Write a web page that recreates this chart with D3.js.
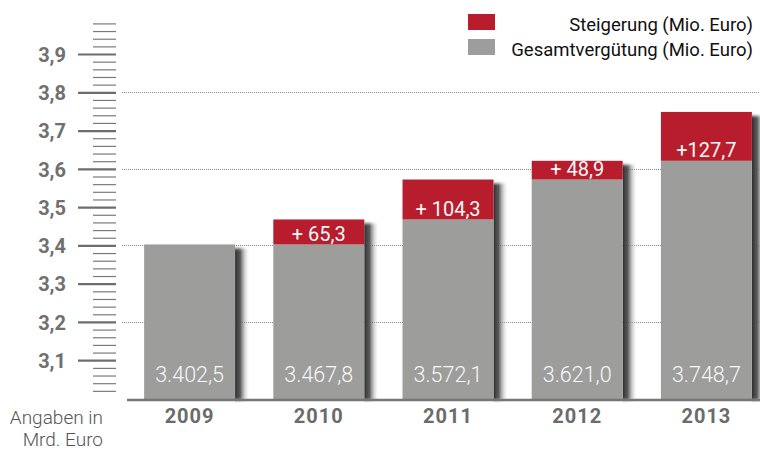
<!DOCTYPE html>
<html>
<head>
<meta charset="utf-8">
<script src="https://cdn.jsdelivr.net/npm/d3@7"></script>
<style>
  html, body { margin: 0; padding: 0; background: #fff; }
  svg { display: block; font-family: Roboto, "Open Sans", sans-serif; }
</style>
</head>
<body>
<svg id="chart" width="760" height="450"></svg>
<script>
// Gesamtvergütung chart
const years = ["2009", "2010", "2011", "2012", "2013"];
const totals = [3402.5, 3467.8, 3572.1, 3621.0, 3748.7];      // Mio. Euro
const increases = [0, 65.3, 104.3, 48.9, 127.7];              // Mio. Euro
const increaseLabels = ["", "+ 65,3", "+ 104,3", "+ 48,9", "+127,7"];
const majorTicks = [3.1, 3.2, 3.3, 3.4, 3.5, 3.6, 3.7, 3.8, 3.9]; // Mrd. Euro
const gridTicks = [3.2, 3.4, 3.6, 3.8];
const legendItems = [
  {label: "Steigerung (Mio. Euro)", color: "#b71d2c"},
  {label: "Gesamtvergütung (Mio. Euro)", color: "#9d9d9c"}
];

const RED = "#b71d2c", GRAY = "#9d9d9c";
const svg = d3.select("#chart");
const de = d3.formatLocale({decimal: ",", thousands: ".", grouping: [3], currency: ["", " €"]});
const fmtTotal = de.format(",.1f");
const fmtTick = de.format(".1f");

const data = years.map((y, i) => ({
  year: y,
  total: totals[i] / 1000,
  base: (totals[i] - increases[i]) / 1000,
  incLabel: increaseLabels[i],
  totalLabel: fmtTotal(totals[i])
}));

const y = d3.scaleLinear().domain([3.0, 3.98]).range([398.5, 23.4]);
const x = d3.scaleBand().domain(years).range([125, 771]).paddingInner(0.296).paddingOuter(0.148);
const baseY = 400;

// shadow gradient
const defs = svg.append("defs");
const grad = defs.append("linearGradient").attr("id", "shadowGrad").attr("x1", 0).attr("x2", 1).attr("y1", 0).attr("y2", 0);
grad.append("stop").attr("offset", 0).attr("stop-color", "#2e2e2e").attr("stop-opacity", 1);
grad.append("stop").attr("offset", 0.35).attr("stop-color", "#4a4a4a").attr("stop-opacity", 0.9);
grad.append("stop").attr("offset", 1).attr("stop-color", "#fff").attr("stop-opacity", 0);
defs.append("filter").attr("id", "soft").attr("x", "-20%").attr("y", "-20%").attr("width", "140%").attr("height", "140%")
  .append("feGaussianBlur").attr("stdDeviation", "0.6 1.5");

// grid
svg.append("g").selectAll("line").data(gridTicks).join("line")
  .attr("x1", 122).attr("x2", 760)
  .attr("y1", d => Math.round(y(d)) + 0.5).attr("y2", d => Math.round(y(d)) + 0.5)
  .attr("stroke", "#8a8a8a").attr("stroke-width", 1).attr("stroke-dasharray", "1,1");

// y axis: minor and major ticks
const minorTicks = d3.range(1, 50).filter(i => i % 5 !== 0).map(i => 3 + i * 0.02);
const minorAxis = svg.append("g").attr("transform", "translate(116,0)")
  .call(d3.axisLeft(y).tickValues(minorTicks).tickSize(23).tickFormat(""));
minorAxis.select(".domain").remove();
minorAxis.selectAll("line").attr("stroke", "#7a7a7a").attr("stroke-width", 1.2);

const majorAxis = svg.append("g").attr("transform", "translate(116,0)")
  .call(d3.axisLeft(y).tickValues(majorTicks).tickSize(38).tickPadding(12).tickFormat(fmtTick));
majorAxis.select(".domain").remove();
majorAxis.selectAll("line").attr("stroke", "#6e6e6e").attr("stroke-width", 2.2);
majorAxis.selectAll("text")
  .attr("font-family", "Roboto, sans-serif").attr("font-size", 20).attr("font-weight", 700)
  .attr("fill", "#707070").attr("dy", "0.36em");

// bars
const bars = svg.append("g").selectAll("g").data(data).join("g");

bars.append("rect")
  .attr("x", d => x(d.year) + x.bandwidth())
  .attr("y", d => y(d.total) + 4)
  .attr("width", 15)
  .attr("height", d => baseY - y(d.total) - 4)
  .attr("fill", "url(#shadowGrad)")
  .attr("filter", "url(#soft)");

bars.append("rect")
  .attr("x", d => x(d.year)).attr("width", x.bandwidth())
  .attr("y", d => y(d.base)).attr("height", d => baseY - y(d.base))
  .attr("fill", GRAY);

bars.filter(d => d.total > d.base).append("rect")
  .attr("x", d => x(d.year)).attr("width", x.bandwidth())
  .attr("y", d => y(d.total)).attr("height", d => y(d.base) - y(d.total))
  .attr("fill", RED);

bars.filter(d => d.incLabel).append("text")
  .attr("x", d => x(d.year) + x.bandwidth() / 2)
  .attr("y", d => y(d.base) - 3.5)
  .attr("text-anchor", "middle")
  .attr("font-size", 20).attr("fill", "#f8f8f8")
  .text(d => d.incLabel);

bars.append("text")
  .attr("x", d => x(d.year) + x.bandwidth() / 2)
  .attr("y", 382)
  .attr("text-anchor", "middle")
  .attr("font-size", 21.5).attr("font-weight", 300).attr("fill", "#f8f8f8")
  .text(d => d.totalLabel);

// baseline
svg.append("line").attr("x1", 127).attr("x2", 760).attr("y1", baseY).attr("y2", baseY)
  .attr("stroke", "#767676").attr("stroke-width", 2.3);

// x labels
svg.append("g").selectAll("text").data(data).join("text")
  .attr("x", d => x(d.year) + x.bandwidth() / 2)
  .attr("y", 423)
  .attr("text-anchor", "middle")
  .attr("font-size", 20).attr("font-weight", 700).attr("letter-spacing", "1px")
  .attr("fill", "#6b6b6b")
  .text(d => d.year);

// unit note
svg.append("text").attr("x", 103).attr("y", 424).attr("text-anchor", "end")
  .attr("font-size", 19).attr("font-weight", 300).attr("fill", "#555").text("Angaben in");
svg.append("text").attr("x", 103).attr("y", 446).attr("text-anchor", "end")
  .attr("font-size", 19).attr("font-weight", 300).attr("fill", "#555").text("Mrd. Euro");

// legend
const legend = svg.append("g").selectAll("g").data(legendItems).join("g")
  .attr("transform", (d, i) => `translate(0,${i * 25})`);
legend.append("rect").attr("x", 468).attr("y", 14).attr("width", 27).attr("height", 16).attr("fill", d => d.color);
legend.append("text").attr("x", 753).attr("y", 30.5).attr("text-anchor", "end")
  .attr("font-size", 18.5).attr("fill", "#111").text(d => d.label);
</script>
</body>
</html>
